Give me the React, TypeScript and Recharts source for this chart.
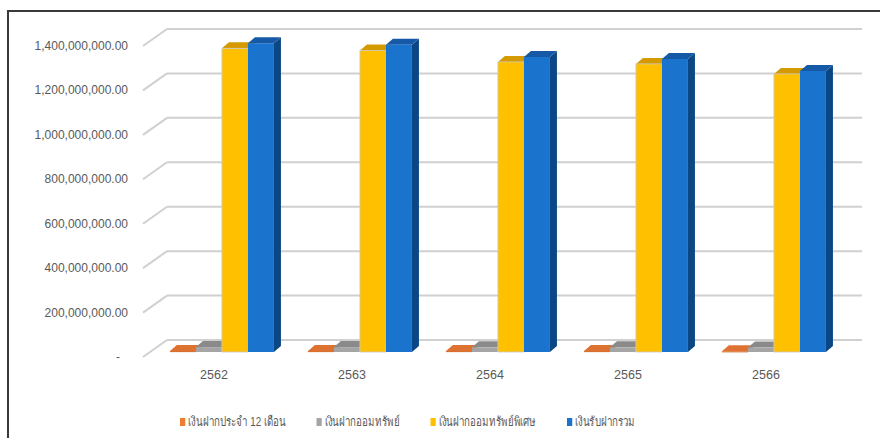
import React from "react";
import { BarChart, Bar, XAxis, YAxis, CartesianGrid } from "recharts";

// ปี พ.ศ.
const years = ["2562", "2563", "2564", "2565", "2566"];

// series values (baht)
const fixed12 = [4e6, 4e6, 4e6, 4e6, 3e6];
const savings = [22e6, 22e6, 21e6, 21e6, 20e6];
const specialSavings = [1367e6, 1357e6, 1306e6, 1297e6, 1252e6];
const totalDeposits = [1390e6, 1383e6, 1328e6, 1319e6, 1265e6];

const yTicks = [0, 200e6, 400e6, 600e6, 800e6, 1000e6, 1200e6, 1400e6];

const seriesNames = [
  "เงินฝากประจำ 12 เดือน",
  "เงินฝากออมทรัพย์",
  "เงินฝากออมทรัพย์พิเศษ",
  "เงินรับฝากรวม",
];

// 3D look: depth of the floor and of the bars
const WALL_DX = 22;
const WALL_DY = -17;
const BAR_SHIFT_X = 7;
const BAR_SHIFT_Y = -5;
const BAR_DX = 7;
const BAR_DY = -6;

const palette = [
  { legend: "#ED7D31", front: "#D2601A", top: "#DE7230", side: "#A8480C" },
  { legend: "#A5A5A5", front: "#A5A5A5", top: "#8A8A8A", side: "#7A7A7A" },
  { legend: "#FFC000", front: "#FFC000", top: "#D49A00", side: "#B88600" },
  { legend: "#1A73CC", front: "#1A73CC", top: "#1659A6", side: "#0B4784" },
];

const data = years.map((year, i) => ({
  year,
  fixed12: fixed12[i],
  savings: savings[i],
  specialSavings: specialSavings[i],
  totalDeposits: totalDeposits[i],
}));

const keys = ["fixed12", "savings", "specialSavings", "totalDeposits"];

const fmt = (v: number) =>
  v === 0 ? "-" : v.toLocaleString("en-US", { minimumFractionDigits: 2, maximumFractionDigits: 2 });

const makeBox = (c: { front: string; top: string; side: string }, outline?: string) => (props: any) => {
  const { x, y, width, height } = props;
  if (x == null || y == null) return null;
  const fx = x + BAR_SHIFT_X;
  const fy = y + BAR_SHIFT_Y;
  const h = Math.max(height, 0);
  const top = `${fx},${fy} ${fx + BAR_DX},${fy + BAR_DY} ${fx + width + BAR_DX},${fy + BAR_DY} ${fx + width},${fy}`;
  const side = `${fx + width},${fy} ${fx + width + BAR_DX},${fy + BAR_DY} ${fx + width + BAR_DX},${fy + h + BAR_DY} ${fx + width},${fy + h}`;
  return (
    <g>
      <polygon points={side} fill={c.side} />
      <polygon points={top} fill={c.top} />
      <rect x={fx} y={fy} width={width} height={Math.max(h, 1)} fill={c.front} stroke={outline || "none"} strokeWidth={outline ? 0.8 : 0} />
    </g>
  );
};

const gridLine = (props: any) => {
  const { x1, y1, x2, y2, index } = props;
  return (
    <g key={`g-${index}`}>
      <line x1={x1 - 2} y1={y1} x2={x1 + WALL_DX} y2={y1 + WALL_DY} stroke="#D0D0D0" strokeWidth={2} />
      <line x1={x1 + WALL_DX} y1={y1 + WALL_DY} x2={x2 + 27} y2={y2 + WALL_DY} stroke="#D0D0D0" strokeWidth={2} />
    </g>
  );
};

const YTick = (props: any) => {
  const { x, y, payload } = props;
  const v = payload.value;
  return (
    <text x={v === 0 ? x - 8 : x} y={y} dy={4} textAnchor="end" fill="#595959" fontSize={12} fontFamily="'Liberation Sans', Arial, sans-serif">
      {fmt(v)}
    </text>
  );
};

export default function App() {
  return (
    <div style={{ position: "absolute", left: 0, top: 0, width: 880, height: 438, background: "#fff", overflow: "hidden" }}>
      <div
        style={{
          position: "absolute",
          left: 7,
          top: 10,
          width: 880,
          height: 440,
          borderTop: "2px solid #3a3a3a",
          borderLeft: "2px solid #3a3a3a",
        }}
      />
      <div style={{ position: "absolute", left: 0, top: 0 }}>
        <BarChart
          width={880}
          height={438}
          data={data}
          margin={{ top: 46, right: 45, bottom: 51, left: 7 }}
          barCategoryGap="13%"
          barGap={0}
        >
          <CartesianGrid vertical={false} horizontal={gridLine} />
          <XAxis
            dataKey="year"
            axisLine={false}
            tickLine={false}
            tickSize={0}
            tickMargin={13}
            height={30}
            tick={{ fill: "#595959", fontSize: 12.5, fontFamily: "'Liberation Sans', Arial, sans-serif" }}
          />
          <YAxis
            width={138}
            domain={[0, 1400e6]}
            ticks={yTicks}
            axisLine={false}
            tickLine={false}
            tickSize={0}
            tickMargin={17}
            tick={<YTick />}
          />
          {keys.map((k, i) => (
            <Bar
              key={k}
              dataKey={k}
              name={seriesNames[i]}
              fill={palette[i].legend}
              isAnimationActive={false}
              shape={makeBox(palette[i], i === 2 ? "#C9C9C9" : undefined)}
            />
          ))}
        </BarChart>
      </div>
      <div
        style={{
          position: "absolute",
          left: 180,
          top: 411,
          display: "flex",
          gap: 41,
          fontFamily: "'Liberation Sans', Arial, sans-serif",
          fontSize: 13,
          color: "#595959",
          whiteSpace: "nowrap",
          transform: "scaleX(0.75)",
          transformOrigin: "left center",
        }}
      >
        {seriesNames.map((n, i) => (
          <div key={n} style={{ display: "flex", alignItems: "center" }}>
            <span style={{ width: 7, height: 8, background: palette[i].legend, marginRight: 4, display: "inline-block" }} />
            <span>{n}</span>
          </div>
        ))}
      </div>
    </div>
  );
}
